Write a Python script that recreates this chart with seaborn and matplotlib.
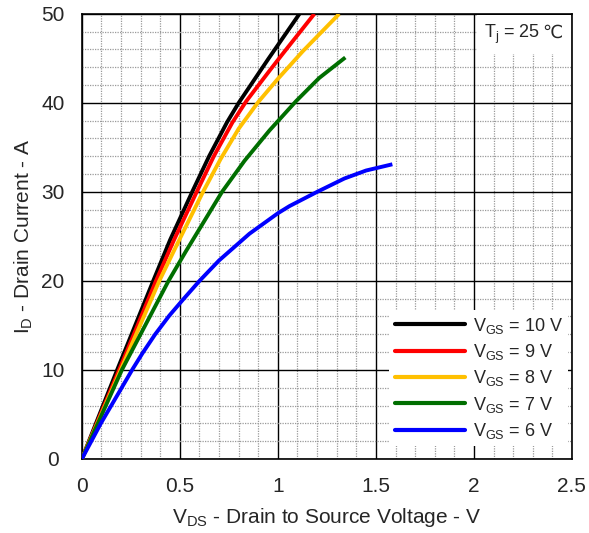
import matplotlib
matplotlib.use("Agg")
import matplotlib.pyplot as plt
from matplotlib.ticker import MultipleLocator
from matplotlib.offsetbox import TextArea, HPacker, AnchoredOffsetbox
import pandas as pd
import seaborn as sns

# Output characteristics: drain current vs drain-source voltage, Tj = 25 °C
vgs_labels = ["10 V", "9 V", "8 V", "7 V", "6 V"]
colors = ["#000000", "#ff0000", "#ffc000", "#006e00", "#0000ff"]

vds_10 = [0, 0.18, 0.364, 0.45, 0.567, 0.649, 0.74, 0.80, 0.95, 1.11]
id_10 = [0, 10.0, 20.0, 24.6, 30.2, 34.0, 37.8, 40.0, 44.9, 50.0]

vds_9 = [0, 0.19, 0.378, 0.47, 0.588, 0.673, 0.768, 0.839, 0.957, 1.017, 1.186]
id_9 = [0, 10.0, 20.0, 24.6, 30.1, 34.0, 37.8, 40.2, 43.6, 45.3, 50.0]

vds_8 = [0, 0.2, 0.395, 0.49, 0.618, 0.708, 0.80, 0.90, 1.0, 1.127, 1.313]
id_8 = [0, 10.1, 20.0, 24.3, 30.0, 33.7, 37.1, 40.1, 42.7, 45.8, 50.0]

vds_7 = [0, 0.204, 0.442, 0.53, 0.715, 0.83, 0.957, 1.093, 1.211, 1.344]
id_7 = [0, 10.0, 20.0, 23.3, 30.0, 33.5, 36.9, 40.2, 42.8, 45.1]

vds_6 = [0, 0.097, 0.259, 0.31, 0.374, 0.446, 0.52, 0.60, 0.70, 0.855,
         1.0, 1.059, 1.2, 1.339, 1.45, 1.584]
id_6 = [0, 4.0, 10.1, 11.9, 14.0, 16.1, 18.0, 20.0, 22.3, 25.3,
        27.6, 28.4, 30.0, 31.5, 32.4, 33.1]

x_ticks = [0, 0.5, 1, 1.5, 2, 2.5]
x_tick_labels = ["0", "0.5", "1", "1.5", "2", "2.5"]
y_ticks = [0, 10, 20, 30, 40, 50]

series = [(vds_10, id_10), (vds_9, id_9), (vds_8, id_8), (vds_7, id_7), (vds_6, id_6)]
frames = []
for lab, (xs, ys) in zip(vgs_labels, series):
    frames.append(pd.DataFrame({"vds": xs, "id": ys, "vgs": lab}))
df = pd.concat(frames, ignore_index=True)

sns.set_style("white")
plt.rcParams["font.family"] = ["Liberation Sans", "DejaVu Sans"]
plt.rcParams["mathtext.fontset"] = "custom"
plt.rcParams["mathtext.rm"] = "Liberation Sans"
plt.rcParams["mathtext.it"] = "Liberation Sans:italic"

fig = plt.figure(figsize=(5.89, 5.33), dpi=100)
ax = fig.add_axes([0.139, 0.139, 0.832, 0.835])

sns.lineplot(data=df, x="vds", y="id", hue="vgs", hue_order=vgs_labels,
             palette=colors, sort=False, estimator=None, linewidth=2.8,
             ax=ax, legend=False, zorder=3)
for ln in ax.get_lines():
    ln.set_solid_joinstyle("round")
    ln.set_solid_capstyle("butt")

ax.set_xlim(0, 2.5)
ax.set_ylim(0, 50)
ax.set_xticks(x_ticks)
ax.set_xticklabels(x_tick_labels)
ax.set_yticks(y_ticks)
ax.xaxis.set_minor_locator(MultipleLocator(0.1))
ax.yaxis.set_minor_locator(MultipleLocator(2))

ax.grid(which="minor", color="#9a9a9a", linestyle=(0, (1, 1)), linewidth=0.9, zorder=0)
ax.grid(which="major", color="#000000", linestyle="-", linewidth=1.0, zorder=1)
ax.set_axisbelow(True)

for side in ["left", "right", "top", "bottom"]:
    ax.spines[side].set_color("#000000")
    ax.spines[side].set_linewidth(1.2)

ax.tick_params(axis="x", which="both", length=0, pad=13, labelsize=15)
ax.tick_params(axis="y", which="both", length=0, pad=21, labelsize=15)
for t in ax.get_yticklabels():
    t.set_horizontalalignment("center")

ax.set_xlabel(r"V$_\mathregular{DS}$ - Drain to Source Voltage - V", fontsize=15, labelpad=7)
ax.set_ylabel(r"I$_\mathregular{D}$ - Drain Current - A", fontsize=15, labelpad=4)

# Junction temperature note, upper right, on a white patch
tj_main = TextArea(r"T$_\mathregular{j}$ = 25",
                   textprops=dict(fontsize=13, family="Liberation Sans"))
tj_unit = TextArea("℃", textprops=dict(fontsize=13, family="DejaVu Sans"))
tj_box = HPacker(children=[tj_main, tj_unit], align="baseline", pad=0, sep=1.5)
anchored = AnchoredOffsetbox(loc="upper right", child=tj_box, pad=0.55,
                             borderpad=0.1, frameon=True,
                             bbox_to_anchor=(1.0, 1.0), bbox_transform=ax.transAxes)
anchored.patch.set_facecolor("white")
anchored.patch.set_edgecolor("none")
anchored.set_zorder(4)
ax.add_artist(anchored)

handles = [plt.Line2D([], [], color=c, linewidth=3) for c in colors]
labels = [r"V$_\mathregular{GS}$ = " + v for v in vgs_labels]
leg = ax.legend(handles, labels, loc="lower right", bbox_to_anchor=(1.0, 0.02),
                fontsize=13, handlelength=3.9, handletextpad=0.4,
                labelspacing=0.35, borderpad=0.3, borderaxespad=0.2,
                frameon=True, fancybox=False)
leg.get_frame().set_facecolor("white")
leg.get_frame().set_edgecolor("none")
leg.get_frame().set_alpha(1.0)

fig.savefig("out.png", dpi=100)
